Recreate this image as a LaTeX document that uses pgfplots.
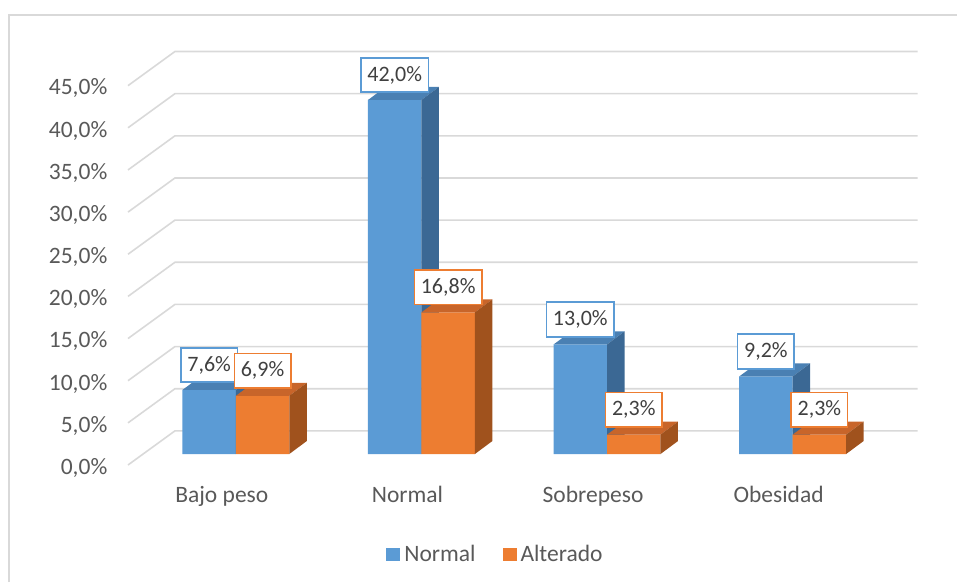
\documentclass[border=0pt]{standalone}
\usepackage{pgfplots}
\usepackage{pgfplotstable}
\usepackage{fontspec}
\setmainfont{Carlito}
\pgfplotsset{compat=1.18}
\definecolor{blueF}{HTML}{5B9BD5}
\definecolor{blueT}{HTML}{4A80B3}
\definecolor{blueS}{HTML}{3B6894}
\definecolor{orangeF}{HTML}{ED7D31}
\definecolor{orangeT}{HTML}{C8652A}
\definecolor{orangeS}{HTML}{A0521D}
\definecolor{gridc}{HTML}{D9D9D9}
\definecolor{txt}{HTML}{595959}
\definecolor{lbl}{HTML}{404040}

\pgfplotstableread{
x normal alterado
0 7.6  6.9
1 42.0 16.8
2 13.0 2.3
3 9.2  2.3
}\datatab

\pgfplotstableread{
gx gy
-0.581 -1.30
-0.328 2.75
3.674 2.75
}\gridtab

% depth faces of a bar, drawn at the bar's top centre (canvas units)
\pgfdeclareplotmark{blue3d}{%
  \pgfsetfillcolor{blueT}%
  \pgfpathmoveto{\pgfqpoint{-26.7pt}{0pt}}%
  \pgfpathlineto{\pgfqpoint{-9.2pt}{13pt}}%
  \pgfpathlineto{\pgfqpoint{44.2pt}{13pt}}%
  \pgfpathlineto{\pgfqpoint{26.7pt}{0pt}}%
  \pgfpathclose
  \pgfusepath{fill}%
  \pgfsetfillcolor{blueS}%
  \pgfpathmoveto{\pgfqpoint{26.7pt}{0pt}}%
  \pgfpathlineto{\pgfqpoint{44.2pt}{13pt}}%
  \pgfpathlineto{\pgfpoint{44.2pt}{13pt-\hval*8.43pt}}%
  \pgfpathlineto{\pgfpoint{26.7pt}{-\hval*8.43pt}}%
  \pgfpathclose
  \pgfusepath{fill}%
}
\pgfdeclareplotmark{orange3d}{%
  \pgfsetfillcolor{orangeT}%
  \pgfpathmoveto{\pgfqpoint{-26.7pt}{0pt}}%
  \pgfpathlineto{\pgfqpoint{-9.2pt}{13pt}}%
  \pgfpathlineto{\pgfqpoint{44.2pt}{13pt}}%
  \pgfpathlineto{\pgfqpoint{26.7pt}{0pt}}%
  \pgfpathclose
  \pgfusepath{fill}%
  \pgfsetfillcolor{orangeS}%
  \pgfpathmoveto{\pgfqpoint{26.7pt}{0pt}}%
  \pgfpathlineto{\pgfqpoint{44.2pt}{13pt}}%
  \pgfpathlineto{\pgfpoint{44.2pt}{13pt-\hval*8.43pt}}%
  \pgfpathlineto{\pgfpoint{26.7pt}{-\hval*8.43pt}}%
  \pgfpathclose
  \pgfusepath{fill}%
}

\tikzset{
  lblnode/.style={anchor=center, yshift=25pt, fill=white, draw=#1, line width=1.6pt,
    text=lbl, font=\fontsize{22}{26}\selectfont, inner xsep=6.5pt, inner ysep=0pt,
    minimum height=34.5pt},
}
\pgfplotsset{
  sqlegend/.style={legend image code/.code={\fill[##1] (0pt,-6.5pt) rectangle (14pt,6.5pt);}},
}

\begin{document}
\begin{tikzpicture}
\useasboundingbox (0,0) rectangle (957pt,582pt);
\draw[gridc, line width=1.3pt] (9pt,0pt) -- (9pt,567pt) -- (957pt,567pt);
\begin{axis}[
  at={(128pt,117pt)}, anchor=south west,
  x=185.6pt, y=8.43pt,
  xmin=-0.581, xmax=3.674, ymin=-1.30, ymax=47.75,
  clip=false, clip marker paths=true,
  axis line style={draw=none}, tick style={draw=none},
  /pgf/number format/assume math mode=true,
  xtick={0,1,2,3},
  xticklabels={Bajo peso, Normal, Sobrepeso, Obesidad},
  xticklabel style={anchor=base, inner sep=0pt, xshift=-14pt, yshift=-37pt,
    font=\fontsize{23.5}{28}\selectfont, text=txt},
  ytick={0,5,...,45},
  yticklabel={\pgfmathprintnumber[fixed,fixed zerofill,precision=1,use comma]{\tick}\%},
  yticklabel style={anchor=base east, inner sep=0pt, xshift=-20.5pt, yshift=-20.3pt,
    font=\fontsize{23.5}{28}\selectfont, text=txt},
  legend style={at={(0.4665,-0.2166)}, anchor=center, draw=none, fill=none,
    legend columns=2, font=\fontsize{23.5}{28}\selectfont, text=txt,
    /tikz/every even column/.append style={column sep=23pt},
    inner sep=0pt, nodes={inner xsep=4pt, inner ysep=3pt}},
]
% grid: back wall lines and the floor diagonals
\pgfplotsinvokeforeach{0,5,...,45}{
  \addplot[gridc, line width=1.6pt, mark=none, forget plot]
    table[x=gx, y expr=\thisrow{gy}+#1] {\gridtab};
}
% Normal
\addplot[ybar, bar width=0.288, bar shift=-0.144, fill=blueF, draw=none, sqlegend]
  table[x=x, y=normal] {\datatab};
\addlegendentry{Normal}
\addplot[scatter, only marks, mark=blue3d, forget plot,
  visualization depends on={rawy \as \hval}]
  table[x expr=\thisrow{x}-0.144, y=normal] {\datatab};
% Alterado
\addplot[ybar, bar width=0.288, bar shift=0.144, fill=orangeF, draw=none, sqlegend]
  table[x=x, y=alterado] {\datatab};
\addlegendentry{Alterado}
\addplot[scatter, only marks, mark=orange3d, forget plot,
  visualization depends on={rawy \as \hval}]
  table[x expr=\thisrow{x}+0.144, y=alterado] {\datatab};
% data labels
\addplot[draw=none, mark=none, forget plot,
  nodes near coords={\pgfmathprintnumber[fixed,fixed zerofill,precision=1,use comma]{\pgfplotspointmeta}\%},
  nodes near coords style={lblnode=blueF}]
  table[x expr=\thisrow{x}-0.144, y=normal] {\datatab};
\addplot[draw=none, mark=none, forget plot,
  nodes near coords={\pgfmathprintnumber[fixed,fixed zerofill,precision=1,use comma]{\pgfplotspointmeta}\%},
  nodes near coords style={lblnode=orangeF}]
  table[x expr=\thisrow{x}+0.144, y=alterado] {\datatab};
\end{axis}
\end{tikzpicture}
\end{document}
